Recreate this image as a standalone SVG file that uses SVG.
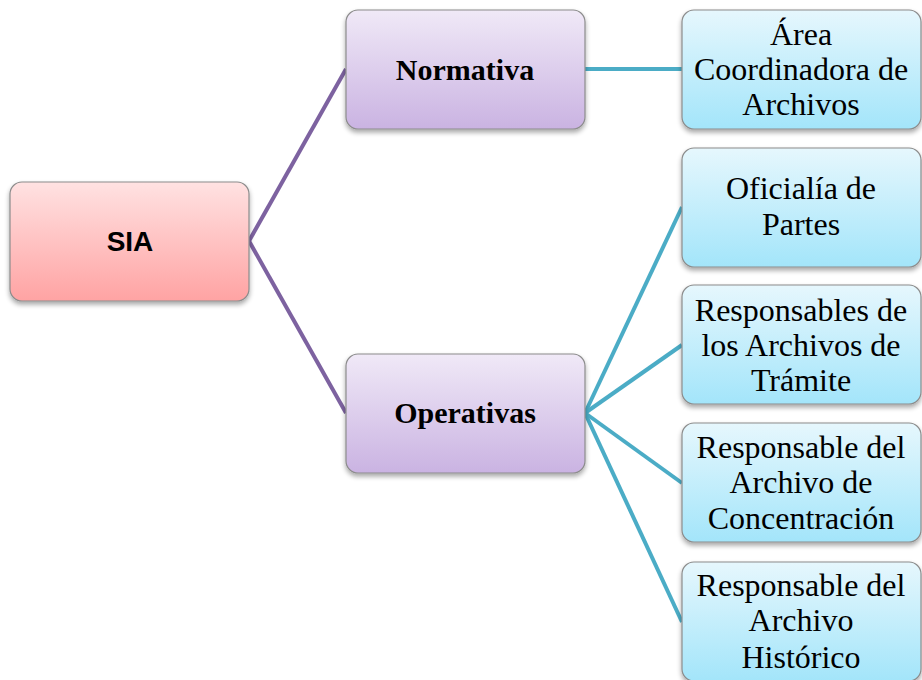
<svg xmlns="http://www.w3.org/2000/svg" width="922" height="680" viewBox="0 0 922 680">
<defs>
<linearGradient id="gPink" x1="0" y1="0" x2="0" y2="1"><stop offset="0" stop-color="#ffe2e2"/><stop offset="1" stop-color="#ffa3a3"/></linearGradient>
<linearGradient id="gPurple" x1="0" y1="0" x2="0" y2="1"><stop offset="0" stop-color="#f0e9f7"/><stop offset="1" stop-color="#cab3e2"/></linearGradient>
<linearGradient id="gBlue" x1="0" y1="0" x2="0" y2="1"><stop offset="0" stop-color="#e6f7fd"/><stop offset="1" stop-color="#a3e5fa"/></linearGradient>
<filter id="sh" x="-10%" y="-10%" width="120%" height="130%"><feGaussianBlur in="SourceAlpha" stdDeviation="2.5"/><feOffset dx="0" dy="3"/><feComponentTransfer><feFuncA type="linear" slope="0.35"/></feComponentTransfer><feMerge><feMergeNode/><feMergeNode in="SourceGraphic"/></feMerge></filter>
</defs>
<style>
.box{stroke:#8c8c8c;stroke-width:1.2;filter:url(#sh)}
.pink{fill:url(#gPink)}
.purple{fill:url(#gPurple)}
.blue{fill:url(#gBlue)}
.sia{font-family:"Liberation Sans",Arial,sans-serif;font-weight:bold;font-size:28px;fill:#000;text-anchor:middle}
.mid{font-family:"Liberation Serif","Times New Roman",serif;font-weight:bold;font-size:30px;fill:#000;text-anchor:middle}
.leaf{font-family:"Liberation Serif","Times New Roman",serif;font-size:32px;fill:#000;text-anchor:middle}
.cp{stroke:#7d62a0;stroke-width:4;fill:none}
.ct{stroke:#4bacc6;stroke-width:4;fill:none}
</style>
<g id="connectors">
<path class="cp" d="M249,241 L346,69"/>
<path class="cp" d="M249,241 L346,413"/>
<path class="ct" d="M585,69 L682,69"/>
<path class="ct" d="M585,413 L682,207"/>
<path class="ct" d="M585,413 L682,345"/>
<path class="ct" d="M585,413 L682,483"/>
<path class="ct" d="M585,413 L682,622"/>
</g>
<g id="sia">
<rect class="box pink" x="10" y="182" width="239" height="119" rx="12"/>
<text class="sia" x="130" y="251">SIA</text>
</g>
<g id="normativa">
<rect class="box purple" x="346" y="10" width="239" height="119" rx="12"/>
<text class="mid" x="465" y="80">Normativa</text>
</g>
<g id="operativas">
<rect class="box purple" x="346" y="354" width="239" height="119" rx="12"/>
<text class="mid" x="465" y="423">Operativas</text>
</g>
<g id="area">
<rect class="box blue" x="682" y="10" width="239" height="119" rx="12"/>
<text class="leaf" x="801" y="45">Área</text>
<text class="leaf" x="801" y="80">Coordinadora de</text>
<text class="leaf" x="801" y="115">Archivos</text>
</g>
<g id="oficialia">
<rect class="box blue" x="682" y="148" width="239" height="119" rx="12"/>
<text class="leaf" x="801" y="199">Oficialía de</text>
<text class="leaf" x="801" y="235">Partes</text>
</g>
<g id="tramite">
<rect class="box blue" x="682" y="285" width="239" height="119" rx="12"/>
<text class="leaf" x="801" y="321">Responsables de</text>
<text class="leaf" x="801" y="356">los Archivos de</text>
<text class="leaf" x="801" y="391">Trámite</text>
</g>
<g id="concentracion">
<rect class="box blue" x="682" y="423" width="239" height="119" rx="12"/>
<text class="leaf" x="801" y="458">Responsable del</text>
<text class="leaf" x="801" y="493">Archivo de</text>
<text class="leaf" x="801" y="529">Concentración</text>
</g>
<g id="historico">
<rect class="box blue" x="682" y="562" width="239" height="119" rx="12"/>
<text class="leaf" x="801" y="596">Responsable del</text>
<text class="leaf" x="801" y="631">Archivo</text>
<text class="leaf" x="801" y="668">Histórico</text>
</g>
</svg>
